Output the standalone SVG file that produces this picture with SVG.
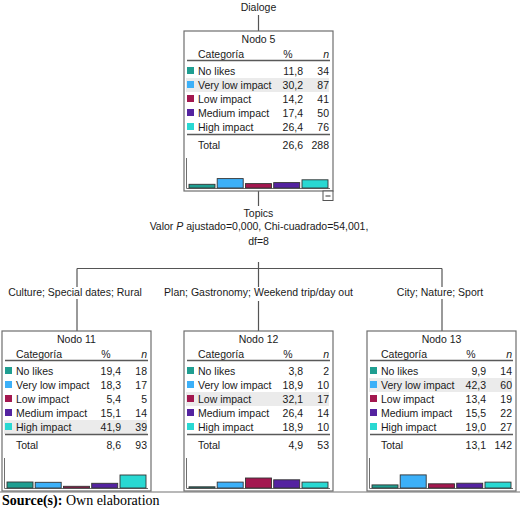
<svg xmlns="http://www.w3.org/2000/svg" width="520" height="510" viewBox="0 0 520 510">
<style>
text{font-family:"Liberation Sans",Arial,sans-serif;font-size:10.5px;fill:#1a1a1a}
.box{fill:#fff;stroke:#6e6e6e;stroke-width:1.2}
.hl{fill:#ebebeb}
.sep{stroke:#595959;stroke-width:1.6}
.ax{stroke:#6e6e6e;stroke-width:1}
.m{text-anchor:middle}
.e{text-anchor:end}
.bar{stroke:#333;stroke-width:0.9}
.c1{fill:#1f9e91}.c2{fill:#3cb0f8}.c3{fill:#a3174f}.c4{fill:#5423a0}.c5{fill:#29d8d2}
.con{stroke:#555;stroke-width:1.2;fill:none}
.src{font-family:"Liberation Serif","Times New Roman",serif;font-size:14px;fill:#000}
</style>
<defs>
<g id="legend">
<rect class="c1" x="3" y="36" width="7" height="7"/>
<rect class="c2" x="3" y="50" width="7" height="7"/>
<rect class="c3" x="3" y="64" width="7" height="7"/>
<rect class="c4" x="3" y="78" width="7" height="7"/>
<rect class="c5" x="3" y="92" width="7" height="7"/>
<text x="14" y="26.5">Categoría</text>
<text x="104" y="26.5" class="m">%</text>
<text x="145" y="26.5" class="e" font-style="italic">n</text>
<line class="sep" x1="3" x2="146" y1="29.5" y2="29.5"/>
<text x="14" y="43.5">No likes</text>
<text x="14" y="57.5">Very low impact</text>
<text x="14" y="71.5">Low impact</text>
<text x="14" y="85.5">Medium impact</text>
<text x="14" y="99.5">High impact</text>
<line class="sep" x1="3" x2="146" y1="103.5" y2="103.5"/>
<text x="14" y="117.5">Total</text>
<line class="ax" x1="2.5" x2="2.5" y1="127" y2="157.5"/>
<line class="ax" x1="2.5" x2="146" y1="157.5" y2="157.5"/>
</g>
</defs>

<g id="connectors">
<line class="con" x1="258.5" y1="15" x2="258.5" y2="31"/>
<line class="con" x1="258.5" y1="191" x2="258.5" y2="206"/>
<line class="con" x1="258.5" y1="262" x2="258.5" y2="269"/>
<line class="con" x1="77" y1="268.5" x2="442" y2="268.5"/>
<line class="con" x1="77" y1="268.5" x2="77" y2="287"/>
<line class="con" x1="77" y1="299" x2="77" y2="331"/>
<line class="con" x1="258.5" y1="268.5" x2="258.5" y2="287"/>
<line class="con" x1="258.5" y1="301" x2="258.5" y2="331"/>
<line class="con" x1="442" y1="268.5" x2="442" y2="287"/>
<line class="con" x1="442" y1="299" x2="442" y2="331"/>
</g>

<g id="labels">
<text x="258.5" y="10.5" class="m">Dialoge</text>
<text x="258.5" y="217" class="m">Topics</text>
<text x="259" y="229.5" class="m">Valor <tspan font-style="italic">P</tspan> ajustado=0,000, Chi-cuadrado=54,001,</text>
<text x="258.5" y="244.5" class="m">df=8</text>
<text x="75" y="296" class="m">Culture; Special dates; Rural</text>
<text x="258.5" y="296" class="m">Plan; Gastronomy; Weekend trip/day out</text>
<text x="440" y="296" class="m">City; Nature; Sport</text>
</g>

<line x1="0" x2="520" y1="492" y2="492" stroke="#a0a0a0" stroke-width="1.5"/>

<g id="node5" transform="translate(184,31)">
<rect class="box" x="0" y="0" width="149" height="160"/>
<rect class="hl" x="2" y="47" width="143" height="14"/>
<text x="74.5" y="11.5" class="m">Nodo 5</text>
<use href="#legend"/>
<text x="119" y="43.5" class="e">11,8</text><text x="145" y="43.5" class="e">34</text>
<text x="119" y="57.5" class="e">30,2</text><text x="145" y="57.5" class="e">87</text>
<text x="119" y="71.5" class="e">14,2</text><text x="145" y="71.5" class="e">41</text>
<text x="119" y="85.5" class="e">17,4</text><text x="145" y="85.5" class="e">50</text>
<text x="119" y="99.5" class="e">26,4</text><text x="145" y="99.5" class="e">76</text>
<text x="119" y="117.5" class="e">26,6</text><text x="145" y="117.5" class="e">288</text>
<rect class="bar c1" x="5" y="153.3" width="26" height="3.7"/>
<rect class="bar c2" x="33.2" y="147.6" width="26" height="9.4"/>
<rect class="bar c3" x="61.5" y="152.6" width="26" height="4.4"/>
<rect class="bar c4" x="89.7" y="151.6" width="26" height="5.4"/>
<rect class="bar c5" x="118" y="148.8" width="26" height="8.2"/>
<rect x="139" y="160" width="10" height="9.5" fill="#fff" stroke="#555" stroke-width="1"/>
<line x1="141.5" x2="146.5" y1="165" y2="165" stroke="#333" stroke-width="1"/>
</g>

<g id="node11" transform="translate(2,331)">
<rect class="box" x="0" y="0" width="149" height="160"/>
<rect class="hl" x="2" y="89" width="143" height="14"/>
<text x="74.5" y="11.5" class="m">Nodo 11</text>
<use href="#legend"/>
<text x="119" y="43.5" class="e">19,4</text><text x="145" y="43.5" class="e">18</text>
<text x="119" y="57.5" class="e">18,3</text><text x="145" y="57.5" class="e">17</text>
<text x="119" y="71.5" class="e">5,4</text><text x="145" y="71.5" class="e">5</text>
<text x="119" y="85.5" class="e">15,1</text><text x="145" y="85.5" class="e">14</text>
<text x="119" y="99.5" class="e">41,9</text><text x="145" y="99.5" class="e">39</text>
<text x="119" y="117.5" class="e">8,6</text><text x="145" y="117.5" class="e">93</text>
<rect class="bar c1" x="5" y="151" width="26" height="6"/>
<rect class="bar c2" x="33.2" y="151.3" width="26" height="5.7"/>
<rect class="bar c3" x="61.5" y="155.3" width="26" height="1.7"/>
<rect class="bar c4" x="89.7" y="152.3" width="26" height="4.7"/>
<rect class="bar c5" x="118" y="144" width="26" height="13"/>
</g>

<g id="node12" transform="translate(184,331)">
<rect class="box" x="0" y="0" width="149" height="160"/>
<rect class="hl" x="2" y="61" width="143" height="14"/>
<text x="74.5" y="11.5" class="m">Nodo 12</text>
<use href="#legend"/>
<text x="119" y="43.5" class="e">3,8</text><text x="145" y="43.5" class="e">2</text>
<text x="119" y="57.5" class="e">18,9</text><text x="145" y="57.5" class="e">10</text>
<text x="119" y="71.5" class="e">32,1</text><text x="145" y="71.5" class="e">17</text>
<text x="119" y="85.5" class="e">26,4</text><text x="145" y="85.5" class="e">14</text>
<text x="119" y="99.5" class="e">18,9</text><text x="145" y="99.5" class="e">10</text>
<text x="119" y="117.5" class="e">4,9</text><text x="145" y="117.5" class="e">53</text>
<rect class="bar c1" x="5" y="155.8" width="26" height="1.2"/>
<rect class="bar c2" x="33.2" y="151.1" width="26" height="5.9"/>
<rect class="bar c3" x="61.5" y="147" width="26" height="10"/>
<rect class="bar c4" x="89.7" y="148.8" width="26" height="8.2"/>
<rect class="bar c5" x="118" y="151.1" width="26" height="5.9"/>
</g>

<g id="node13" transform="translate(367,331)">
<rect class="box" x="0" y="0" width="149" height="160"/>
<rect class="hl" x="2" y="47" width="143" height="14"/>
<text x="74.5" y="11.5" class="m">Nodo 13</text>
<use href="#legend"/>
<text x="119" y="43.5" class="e">9,9</text><text x="145" y="43.5" class="e">14</text>
<text x="119" y="57.5" class="e">42,3</text><text x="145" y="57.5" class="e">60</text>
<text x="119" y="71.5" class="e">13,4</text><text x="145" y="71.5" class="e">19</text>
<text x="119" y="85.5" class="e">15,5</text><text x="145" y="85.5" class="e">22</text>
<text x="119" y="99.5" class="e">19,0</text><text x="145" y="99.5" class="e">27</text>
<text x="119" y="117.5" class="e">13,1</text><text x="145" y="117.5" class="e">142</text>
<rect class="bar c1" x="5" y="153.9" width="26" height="3.1"/>
<rect class="bar c2" x="33.2" y="143.9" width="26" height="13.1"/>
<rect class="bar c3" x="61.5" y="152.8" width="26" height="4.2"/>
<rect class="bar c4" x="89.7" y="152.2" width="26" height="4.8"/>
<rect class="bar c5" x="118" y="151.1" width="26" height="5.9"/>
</g>

<text x="2" y="505" class="src"><tspan font-weight="bold">Source(s):</tspan> Own elaboration</text>
</svg>
